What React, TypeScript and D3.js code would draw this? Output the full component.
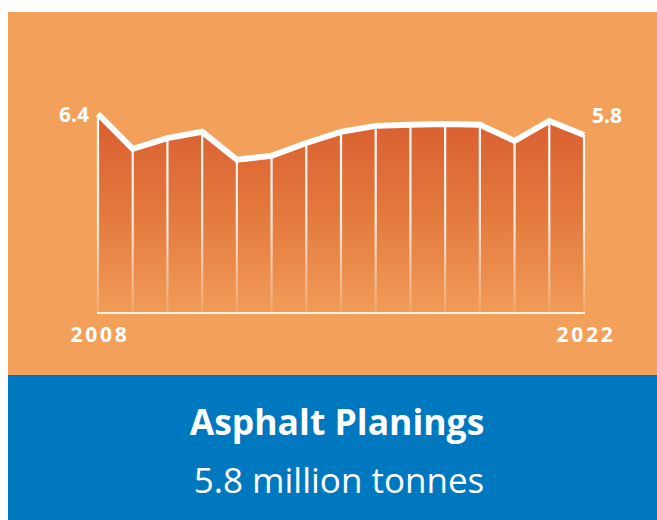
import React from "react";
import * as d3 from "d3";

const years = [2008, 2009, 2010, 2011, 2012, 2013, 2014, 2015, 2016, 2017, 2018, 2019, 2020, 2021, 2022];
const values = [6.4, 5.4, 5.71, 5.89, 5.09, 5.2, 5.57, 5.89, 6.06, 6.09, 6.11, 6.09, 5.63, 6.2, 5.8];
const tickYears = ["2008", "2022"];
const endLabels = ["6.4", "5.8"];
const title = "Asphalt Planings";
const subtitle = "5.8 million tonnes";

const W = 657;
const H = 520;
const FONT = "'Open Sans', 'Noto Sans', sans-serif";

export default function App() {
  const x = d3.scaleLinear().domain([2008, 2022]).range([98, 584]);
  const y = d3.scaleLinear().domain([0.7, 6.4]).range([313, 114]);
  const pts: [number, number][] = years.map((yr, i) => [x(yr), y(values[i])]);
  const area = d3
    .area<[number, number]>()
    .x((d) => d[0])
    .y0(y(0.7))
    .y1((d) => d[1])(pts) as string;
  const line = d3.line<[number, number]>().x((d) => d[0]).y((d) => d[1])(pts) as string;
  const base = y(0.7);

  return (
    <svg
      width={W}
      height={H}
      style={{ position: "absolute", left: 0, top: 0, background: "#fff" }}
    >
      <defs>
        <linearGradient id="fillG" gradientUnits="userSpaceOnUse" x1="0" y1={y(6.4)} x2="0" y2={base}>
          <stop offset="0" stopColor="#D95E30" />
          <stop offset="0.5" stopColor="#E3793D" />
          <stop offset="1" stopColor="#F19C58" />
        </linearGradient>
        <linearGradient id="vlineG" gradientUnits="userSpaceOnUse" x1="0" y1={y(6.4)} x2="0" y2={base}>
          <stop offset="0" stopColor="#fff" stopOpacity="1" />
          <stop offset="0.55" stopColor="#fff" stopOpacity="0.85" />
          <stop offset="1" stopColor="#fff" stopOpacity="0.1" />
        </linearGradient>
      </defs>
      <rect x={8} y={12} width={W - 8} height={364} fill="#F3A15A" />
      <rect x={8} y={375} width={W - 8} height={H - 375} fill="#0078BF" />

      <path d={area} fill="url(#fillG)" />
      {pts.map((p, i) => (
        <line
          key={i}
          x1={p[0]}
          x2={p[0]}
          y1={p[1]}
          y2={base}
          stroke="url(#vlineG)"
          strokeWidth={2.2}
        />
      ))}
      <line x1={x(2008) - 1} x2={x(2022) + 1} y1={base} y2={base} stroke="#FFF3E6" strokeWidth={2} />
      <path d={line} fill="none" stroke="#fff" strokeWidth={6} strokeLinejoin="miter" strokeLinecap="butt" />

      <text x={89} y={122} textAnchor="end" fill="#fff" fontFamily={FONT} fontWeight={700} fontSize={21}>
        {endLabels[0]}
      </text>
      <text x={592} y={123} textAnchor="start" fill="#fff" fontFamily={FONT} fontWeight={700} fontSize={21}>
        {endLabels[1]}
      </text>

      {tickYears.map((t) => (
        <text
          key={t}
          x={x(+t) + 2}
          y={342}
          textAnchor="middle"
          fill="#fff"
          fontFamily={FONT}
          fontWeight={700}
          fontSize={21}
          letterSpacing={2.7}
        >
          {t}
        </text>
      ))}

      <text x={337} y={435} textAnchor="middle" fill="#fff" fontFamily={FONT} fontWeight={700} fontSize={35.5}>
        {title}
      </text>
      <text x={339} y={493} textAnchor="middle" fill="#fff" fontFamily={FONT} fontWeight={400} fontSize={35}>
        {subtitle}
      </text>
    </svg>
  );
}
